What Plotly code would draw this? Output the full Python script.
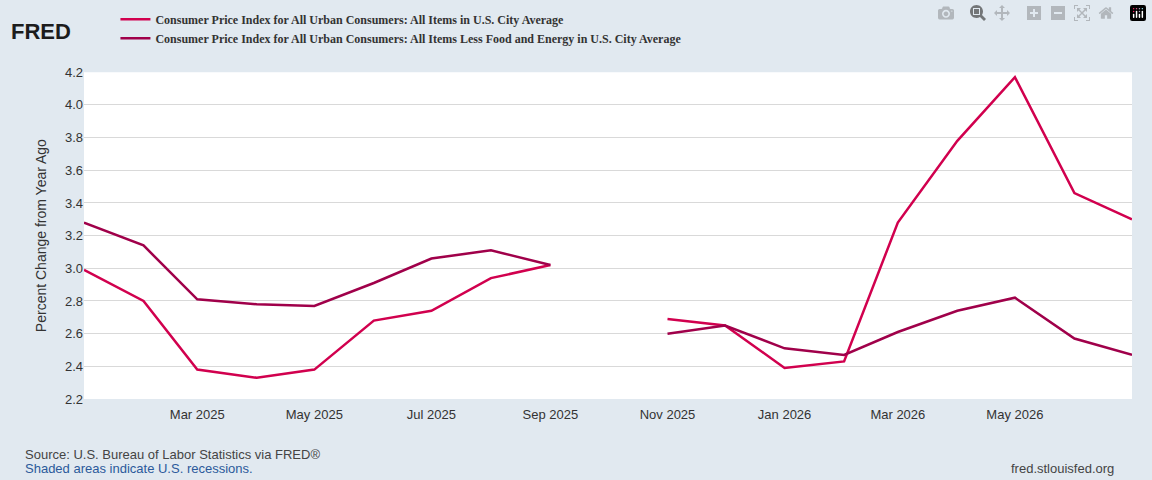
import plotly.graph_objects as go

months = ["2025-01-01", "2025-02-01", "2025-03-01", "2025-04-01", "2025-05-01", "2025-06-01",
          "2025-07-01", "2025-08-01", "2025-09-01", "2025-10-01", "2025-11-01", "2025-12-01",
          "2026-01-01", "2026-02-01", "2026-03-01", "2026-04-01", "2026-05-01", "2026-06-01",
          "2026-07-01"]
cpi_all = [2.99, 2.80, 2.38, 2.33, 2.38, 2.68, 2.74, 2.94, 3.02, None, 2.69, 2.65,
           2.39, 2.43, 3.28, 3.78, 4.17, 3.46, 3.30]
cpi_core = [3.28, 3.14, 2.81, 2.78, 2.77, 2.91, 3.06, 3.11, 3.02, None, 2.60, 2.65,
            2.51, 2.47, 2.61, 2.74, 2.82, 2.57, 2.47]

tick_vals = ["2025-03-01", "2025-05-01", "2025-07-01", "2025-09-01", "2025-11-01",
             "2026-01-01", "2026-03-01", "2026-05-01", "2026-07-01"]
tick_text = ["Mar 2025", "May 2025", "Jul 2025", "Sep 2025", "Nov 2025",
             "Jan 2026", "Mar 2026", "May 2026", "Jul 2026"]

fig = go.Figure()
fig.add_trace(go.Scatter(x=months, y=cpi_all, mode="lines",
                         name="<b>Consumer Price Index for All Urban Consumers: All Items in U.S. City Average</b>",
                         line=dict(color="#d1004e", width=2.5)))
fig.add_trace(go.Scatter(x=months, y=cpi_core, mode="lines",
                         name="<b>Consumer Price Index for All Urban Consumers: All Items Less Food and Energy in U.S. City Average</b>",
                         line=dict(color="#a0004a", width=2.5)))

fig.update_layout(
    width=1152, height=480,
    paper_bgcolor="#e1e9f0", plot_bgcolor="#ffffff",
    margin=dict(l=84, r=20, t=62, b=81),
    font=dict(family="Liberation Sans, Arial", size=13, color="#333333"),
    showlegend=True,
    legend=dict(x=0.03, y=0.99, xref="paper", yref="container", xanchor="left", yanchor="top",
                bgcolor="rgba(0,0,0,0)", tracegroupgap=0, itemwidth=30,
                font=dict(family="Liberation Serif, Times New Roman", size=12, color="#333333")),
    xaxis=dict(range=["2025-01-01", "2026-07-01"], tickvals=tick_vals, ticktext=tick_text,
               showgrid=False, ticks="", zeroline=False, ticklabelstandoff=6),
    yaxis=dict(range=[2.2, 4.2], dtick=0.2, tickformat=".1f", gridcolor="#d9d9d9",
               zeroline=False, title=dict(text="Percent Change from Year Ago", font=dict(size=14))),
)

fig.add_annotation(x=-0.072, y=1.17, xref="paper", yref="paper", xanchor="left", yanchor="top",
                   text="<b>FRED</b>", showarrow=False, font=dict(size=22, color="#1c1c1c"))
fig.add_annotation(x=-0.058, y=-0.14, xref="paper", yref="paper", xanchor="left", yanchor="top",
                   text="Source: U.S. Bureau of Labor Statistics via FRED®", showarrow=False,
                   font=dict(size=13, color="#444444"))
fig.add_annotation(x=-0.058, y=-0.185, xref="paper", yref="paper", xanchor="left", yanchor="top",
                   text="Shaded areas indicate U.S. recessions.", showarrow=False,
                   font=dict(size=13, color="#2b5a9b"))
fig.add_annotation(x=0.985, y=-0.185, xref="paper", yref="paper", xanchor="right", yanchor="top",
                   text="fred.stlouisfed.org", showarrow=False, font=dict(size=13, color="#444444"))

fig.write_html("out.html", post_script="document.body.style.margin='0';")
